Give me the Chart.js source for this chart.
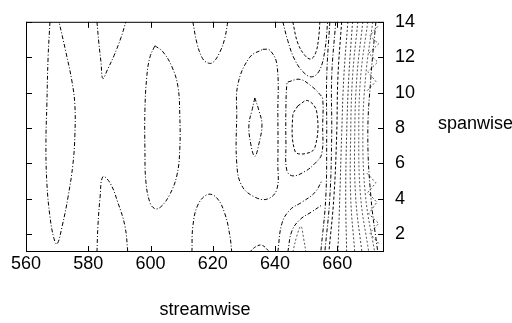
<!DOCTYPE html>
<html lang="en">
<head>
<meta charset="UTF-8">
<title>Contours</title>
<script src="https://cdn.jsdelivr.net/npm/chart.js"></script>
<style>
  body { margin: 0; background: #fff; }
</style>
</head>
<body>
<canvas id="contourChart" width="512" height="323"></canvas>
<script>
const xTicks = [560, 580, 600, 620, 640, 660];
const yTicks = [2, 4, 6, 8, 10, 12, 14];
const xRange = [560, 675];
const yRange = [1, 14];

// contour lines as [streamwise, spanwise] pairs
const lineA = [[567.7,14],[567.1,12],[566.7,9.3],[566.4,7.1],[566.7,4.9],[567.7,3.0],[569.0,1.75],[570.0,1.45],[571.6,2.45],[573.5,4.1],[575.1,6.0],[575.7,7.6],[575.7,9.3],[574.8,10.6],[572.8,12.3],[570.6,14]];
const lineB = [[582.8,14],[583.4,12.8],[584.1,11.7],[584.7,10.8],[586.3,11.35],[588.3,12.1],[590.5,13.1],[592.1,14]];
const lineC = [[582.8,1],[583.1,2.45],[583.8,4.1],[584.7,5.25],[587.0,4.9],[589.5,3.8],[591.8,2.45],[592.7,1]];
const lineD = [[601.4,12.65],[604.0,12.3],[606.9,11.45],[608.8,10.35],[609.4,8.7],[609.4,6.8],[608.5,5.35],[606.2,4.25],[603.3,3.55],[601.4,3.45],[599.8,3.8],[598.5,5.0],[598.2,6.8],[598.2,9.0],[598.8,10.9],[599.8,12.0],[601.4,12.65]];
const lineE = [[613.6,14],[614.9,12.8],[616.5,12.0],[618.1,11.7],[620.0,11.7],[622.3,12.3],[623.9,13.1],[624.8,14]];
const lineF = [[613.3,1],[613.6,2.45],[615.2,3.65],[618.4,4.25],[621.3,4.05],[623.9,3.15],[625.5,1.9],[626.1,1]];
const lineG = [[636.1,12.45],[638.3,12.4],[640.6,11.6],[640.9,8.7],[640.9,6.0],[640.6,4.55],[637.7,4.0],[633.5,4.1],[629.3,4.75],[627.7,6.0],[627.7,8.7],[628.1,10.5],[631.9,12.0],[636.1,12.45]];
const lineH = [[633.5,9.7],[632.6,9.0],[631.6,8.2],[632.2,7.1],[633.5,6.4],[634.8,7.1],[635.8,8.2],[634.8,9.0],[633.5,9.7]];
const lineI1 = [[642.5,14],[644.1,12.93],[646.4,11.83],[649.6,11.07],[652.1,10.9],[654.4,11.3],[656.0,12.38],[656.9,14]];
const lineI2 = [[645.7,14],[647.3,12.8],[649.6,12.1],[651.5,11.9],[653.1,12.27],[654.0,13.1],[654.4,14]];
const lineJ = [[644.1,10.6],[648.0,10.75],[651.8,10.35],[654.4,9.9],[655.3,9.65],[655.3,8.2],[655.0,6.55],[652.8,6.0],[649.6,5.55],[645.7,5.3],[643.8,5.6],[643.5,7.1],[643.5,9.3],[643.8,10.5],[644.1,10.6]];
const lineK = [[647.3,9.25],[650.5,9.55],[653.4,8.9],[652.8,6.9],[649.6,6.55],[646.4,6.7],[645.7,8.7],[647.3,9.25]];
const lineM = [[631.9,1],[633.8,1.3],[635.8,1.38],[638.3,1]];
const lineN1 = [[640.9,1],[642.2,2.61],[644.8,3.38],[648.6,3.81],[652.8,4.36],[655.0,5.01]];
const lineN2 = [[644.1,1],[645.4,2.18],[648.0,2.83],[651.8,3.27],[655.0,3.65]];
const lineN3 = [[645.7,1],[647.0,1.9],[648.3,2.45],[649.2,1.74],[649.9,1]];
// near-wall lines, spanwise 14 / 10.9 / 7.63 / 4.09 / 1
const spanStations = [14, 10.9, 7.63, 4.09, 1];
const wallP1 = [657.6, 656.6, 656.6, 656.3, 654.7];
const wallP2 = [659.5, 658.2, 658.2, 657.6, 656.0];
const wallP3 = [661.4, 660.2, 659.8, 658.9, 657.3];
const wallQ  = [672.4, 670.8, 669.8, 670.8, 673.0];
const wallD1 = [663.4, 662.1, 661.4, 660.8, 660.2];
const wallD2 = [664.9, 663.7, 663.0, 662.7, 663.0];
const wallD3 = [666.6, 664.9, 664.3, 664.3, 665.6];
const wallD4 = [668.2, 666.3, 665.6, 665.9, 667.9];
const wallD5 = [669.8, 667.5, 666.9, 667.5, 670.1];
const wallD6 = [671.4, 669.1, 668.2, 669.1, 672.0];
const zigTop = [[673.0,13.74],[670.4,13.2],[673.3,12.76],[670.1,12.22],[673.0,11.73],[669.8,11.18],[672.4,10.63],[669.5,10.09]];
const zigBottom = [[669.5,5.45],[672.4,4.91],[669.8,4.36],[672.7,3.81],[670.1,3.16],[673.3,2.61],[670.4,2.07],[673.6,1.42]];

const pairs = pts => pts.map(p => ({x: p[0], y: p[1]}));
const wall = xs => xs.map((v, i) => ({x: v, y: spanStations[i]}));

const dashDot = [4, 2, 1, 2];
const dashed = [3, 2];
const dotted = [2, 2];

function line(points, dash, color, tension) {
    return {
        data: points,
        showLine: true,
        pointRadius: 0,
        borderWidth: 1,
        borderColor: color || '#000',
        borderDash: dash,
        tension: tension === undefined ? 0.4 : tension,
        fill: false
    };
}

const datasets = [
    line(pairs(lineA), dashDot),
    line(pairs(lineB), dashDot),
    line(pairs(lineC), dashDot),
    line(pairs(lineD), dashDot),
    line(pairs(lineE), dashDot),
    line(pairs(lineF), dashDot),
    line(pairs(lineG), dashDot),
    line(pairs(lineH), dashDot),
    line(pairs(lineI1), dashDot),
    line(pairs(lineI2), dashed),
    line(pairs(lineJ), dashDot),
    line(pairs(lineK), dashed),
    line(pairs(lineM), dashed),
    line(pairs(lineN1), dashDot),
    line(pairs(lineN2), dashDot),
    line(pairs(lineN3), dotted, '#555'),
    line(wall(wallP1), dashDot),
    line(wall(wallP2), dashDot),
    line(wall(wallP3), dashed),
    line(wall(wallQ), dashDot),
    line(wall(wallD1), dotted, '#333'),
    line(wall(wallD2), dotted, '#333'),
    line(wall(wallD3), dotted, '#444'),
    line(wall(wallD4), dotted, '#444'),
    line(wall(wallD5), dotted, '#555'),
    line(wall(wallD6), dotted, '#555'),
    line(pairs(zigTop), dotted, '#555', 0),
    line(pairs(zigBottom), dotted, '#555', 0)
];

const font = '"Liberation Sans", Arial, sans-serif';

const frame = {
    id: 'frame',
    afterDatasetsDraw(chart) {
        const {ctx, chartArea: a, scales: {x, y}} = chart;
        ctx.save();
        ctx.strokeStyle = '#000';
        ctx.lineWidth = 1;
        ctx.strokeRect(a.left + 0.5, a.top + 0.5, a.right - a.left - 1, a.bottom - a.top - 1);
        ctx.beginPath();
        x.ticks.forEach(t => {
            const px = Math.round(x.getPixelForValue(t.value)) + 0.5;
            ctx.moveTo(px, a.bottom); ctx.lineTo(px, a.bottom - 6);
            ctx.moveTo(px, a.top); ctx.lineTo(px, a.top + 6);
        });
        y.ticks.forEach(t => {
            const py = Math.round(y.getPixelForValue(t.value)) + 0.5;
            ctx.moveTo(a.left, py); ctx.lineTo(a.left + 6, py);
            ctx.moveTo(a.right, py); ctx.lineTo(a.right - 6, py);
        });
        ctx.stroke();
        ctx.fillStyle = '#000';
        ctx.font = '18px ' + font;
        ctx.textBaseline = 'middle';
        ctx.textAlign = 'left';
        ctx.fillText('spanwise', a.right + 54, 124);
        ctx.restore();
    }
};

new Chart(document.getElementById('contourChart').getContext('2d'), {
    type: 'scatter',
    data: { datasets: datasets },
    options: {
        responsive: false,
        animation: false,
        layout: { padding: { left: 26, top: 13, right: 0, bottom: 0 } },
        plugins: { legend: { display: false }, tooltip: { enabled: false } },
        scales: {
            x: {
                type: 'linear',
                min: xRange[0],
                max: xRange[1],
                afterBuildTicks: s => { s.ticks = xTicks.map(v => ({value: v})); },
                afterFit: s => { s.height = 71; },
                grid: { display: false, drawTicks: false },
                border: { display: false },
                ticks: { color: '#000', padding: 1, maxRotation: 0, autoSkip: false, font: { family: font, size: 18 } },
                title: { display: true, text: 'streamwise', color: '#000', padding: { top: 0, bottom: 2 }, font: { family: font, size: 18 } }
            },
            y: {
                type: 'linear',
                position: 'right',
                min: yRange[0],
                max: yRange[1],
                afterBuildTicks: s => { s.ticks = yTicks.map(v => ({value: v})); },
                afterFit: s => { s.width = 128; },
                grid: { display: false, drawTicks: false },
                border: { display: false },
                ticks: { color: '#000', padding: 11, autoSkip: false, font: { family: font, size: 18 } }
            }
        }
    },
    plugins: [frame]
});
</script>
</body>
</html>
